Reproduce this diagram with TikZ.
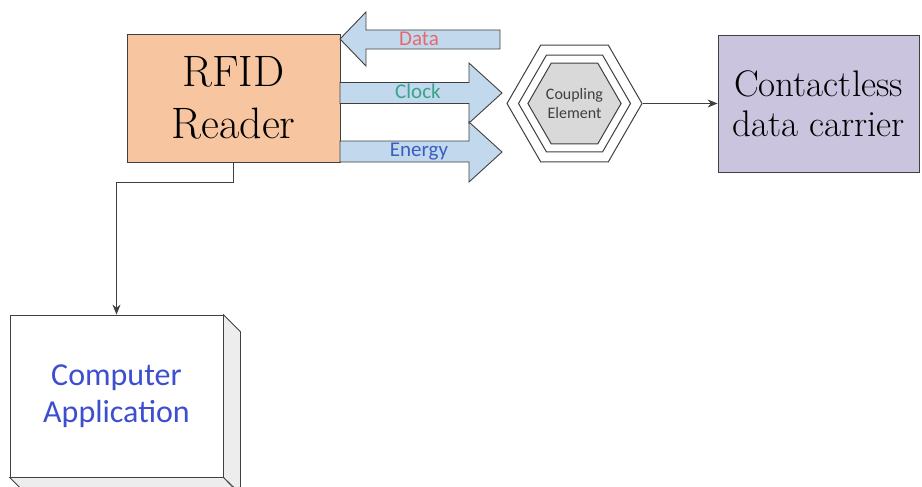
\documentclass[tikz,border=0pt]{standalone}
\usepackage{fontspec}
\newfontfamily\calibri{Carlito}
\usetikzlibrary{arrows.meta,positioning,shapes.geometric}
\definecolor{lineink}{HTML}{3F3F3F}
\definecolor{readerfill}{HTML}{F7C6A0}
\definecolor{arrowfill}{HTML}{C2D8EC}
\definecolor{datared}{HTML}{E66A6C}
\definecolor{clockteal}{HTML}{3AA38B}
\definecolor{energyblue}{HTML}{3A5EC2}
\definecolor{carrierfill}{HTML}{CBC4DE}
\definecolor{hexgrey}{HTML}{D9D9D9}
\definecolor{appblue}{HTML}{3D4FCF}
\definecolor{sideshade}{HTML}{EDEDED}
\tikzset{
  readerbox/.style={
    rectangle, draw=lineink, line width=0.8pt, fill=readerfill, inner sep=0pt,
    minimum width=213pt, minimum height=128pt, align=center,
    font=\fontsize{44}{52}\selectfont
  },
  carrierbox/.style={
    rectangle, draw=lineink, line width=0.8pt, fill=carrierfill, inner sep=0pt,
    minimum width=201pt, minimum height=137pt, align=center,
    font=\fontsize{37}{40}\selectfont
  },
  appbox/.style={
    rectangle, draw=lineink, line width=0.8pt, fill=white, inner sep=0pt,
    minimum width=213pt, minimum height=162pt, align=center,
    text=appblue, font=\calibri\fontsize{32}{37}\selectfont
  },
  hexring/.style={
    regular polygon, regular polygon sides=6, draw=lineink,
    line width=1pt, inner sep=0pt, fill=white
  },
  blockarrow/.style={draw=lineink, fill=arrowfill, line width=0.9pt, line join=miter},
  arrowlabel/.style={anchor=base, font=\calibri\fontsize{21}{24}\selectfont},
  linkarrow/.style={-{Stealth[length=10pt,width=8pt]}, draw=lineink, line width=1.2pt},
}
\begin{document}
\begin{tikzpicture}[x=1pt,y=-1pt]
  \clip (0,0) rectangle (922,487);
  \node[readerbox] (reader) at (233.5,98) {RFID\\Reader};

  % block arrows between reader and coupler
  \draw[blockarrow] (340,39) -- (366,12) -- (366,30) -- (500,30)
    -- (500,49) -- (366,49) -- (366,66) -- cycle;
  \draw[blockarrow] (340,82.5) -- (469,82.5) -- (469,63) -- (502,93)
    -- (469,123) -- (469,103.5) -- (340,103.5) -- cycle;
  \draw[blockarrow] (340,141) -- (469,141) -- (469,122) -- (502,152)
    -- (469,182) -- (469,162) -- (340,162) -- cycle;
  \node[arrowlabel, text=datared] (datalbl) at (419,46) {Data};
  \node[arrowlabel, text=clockteal] (clocklbl) at (418,98.5) {Clock};
  \node[arrowlabel, text=energyblue] (energylbl) at (419,157) {Energy};

  \node[hexring, minimum size=135pt] (couplerouter) at (574.5,103.5) {};
  \node[hexring, minimum size=112pt] (couplermid) at (couplerouter) {};
  \node[hexring, minimum size=89pt, fill=hexgrey, align=center,
    font=\calibri\fontsize{16}{19}\selectfont, text=lineink] (coupler) at (couplerouter) {Coupling\\Element};

  \node[carrierbox] (carrier) at (818.5,103.5) {Contactless\\data carrier};
  \draw[linkarrow] (couplerouter.east) -- (carrier.west);

  \node[appbox] (app) at (116.5,396) {Computer\\Application};
  \fill[sideshade, draw=lineink, line width=0.8pt] (app.north east) -- ++(17,17) -- ++(0,162) -- (app.south east) -- cycle;
  \fill[sideshade, draw=lineink, line width=0.8pt] (app.south west) -- ++(17,17) -- ++(213,0) -- (app.south east) -- cycle;

  \draw[linkarrow] (reader.south) -- ++(0,20) -| (app.north);
\end{tikzpicture}
\end{document}
